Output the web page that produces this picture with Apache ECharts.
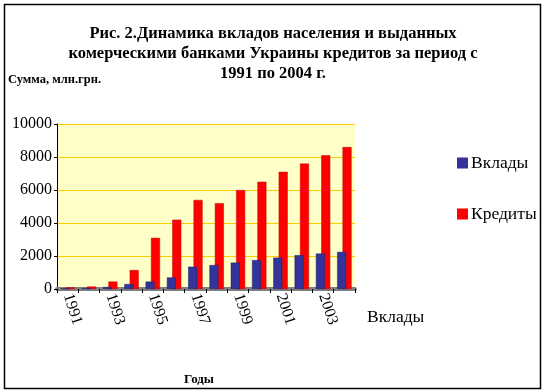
<!DOCTYPE html>
<html>
<head>
<meta charset="utf-8">
<script src="https://cdn.jsdelivr.net/npm/echarts@6/dist/echarts.min.js"></script>
<style>
html,body{margin:0;padding:0;background:#fff;}
#c{width:546px;height:392px;}
</style>
</head>
<body>
<div id="c"></div>
<script>
const years = ['1991','1992','1993','1994','1995','1996','1997','1998','1999','2000','2001','2002','2003','2004'];
const vklady = [30, 60, 120, 300, 450, 700, 1350, 1450, 1600, 1750, 1900, 2050, 2150, 2250];
const kredity = [100, 150, 450, 1150, 3100, 4200, 5400, 5200, 6000, 6500, 7100, 7600, 8100, 8600];
const yTicks = [0, 2000, 4000, 6000, 8000, 10000];
const titleText = 'Рис. 2.Динамика вкладов населения и выданных\nкомерческими банками Украины кредитов за период с\n1991 по 2004 г.';
const serif = '"Liberation Serif", "DejaVu Serif", serif';

const chart = echarts.init(document.getElementById('c'));
chart.setOption({
  animation: false,
  backgroundColor: '#ffffff',
  title: [
    {
      text: titleText,
      left: 'center',
      top: 19,
      textStyle: {fontFamily: serif, fontWeight: 'bold', fontSize: 16.5, lineHeight: 20, color: '#000'}
    },
    {
      text: 'Сумма, млн.грн.',
      left: 3,
      top: 68,
      textStyle: {fontFamily: serif, fontWeight: 'bold', fontSize: 12.5, color: '#000'}
    }
  ],
  legend: {
    orient: 'vertical',
    left: 452,
    top: 149,
    itemGap: 33,
    itemWidth: 11,
    itemHeight: 11,
    icon: 'rect',
    itemStyle: {borderWidth: 0},
    data: ['Вклады', 'Кредиты'],
    textStyle: {fontFamily: serif, fontSize: 17.5, color: '#000', padding: [0,0,0,-2]}
  },
  grid: {left: 57, top: 124, width: 298, height: 165, show: true, backgroundColor: '#FFFFC8', borderWidth: 0},
  xAxis: {
    type: 'category',
    data: years,
    name: 'Годы',
    nameLocation: 'middle',
    nameGap: 84,
    nameTextStyle: {fontFamily: serif, fontWeight: 'bold', fontSize: 13, color: '#000', padding: [0, 14, 0, 0]},
    axisLine: {lineStyle: {color: '#808080', width: 4}},
    axisTick: {show: true, interval: 0, length: 4, lineStyle: {color: '#000'}},
    axisLabel: {interval: 1, rotate: -72, fontFamily: serif, fontSize: 16, color: '#000', margin: 5}
  },
  yAxis: {
    type: 'value',
    min: 0,
    max: 10000,
    interval: 2000,
    axisLine: {show: true, lineStyle: {color: '#000'}},
    axisTick: {show: true, length: 3, lineStyle: {color: '#000'}},
    axisLabel: {fontFamily: serif, fontSize: 16, color: '#000', margin: 5,
      formatter: v => yTicks.indexOf(v) >= 0 ? String(v) : ''},
    splitLine: {lineStyle: {color: '#FFCC00', width: 1}}
  },
  series: [
    {
      name: 'Вклады',
      type: 'bar',
      data: vklady,
      barWidth: 9,
      barGap: '-40%',
      z: 4,
      itemStyle: {color: '#333399', borderColor: '#1e1e70', borderWidth: 0.5}
    },
    {
      name: 'Кредиты',
      type: 'bar',
      data: kredity,
      barWidth: 9,
      z: 3,
      itemStyle: {color: '#FF0000', borderColor: '#c00000', borderWidth: 0.5}
    }
  ],
  graphic: [
    {type: 'rect', shape: {x: 4.5, y: 4.5, width: 536, height: 384}, style: {fill: null, stroke: '#000', lineWidth: 1.5}, silent: true, z: 100},
    {type: 'text', left: 367, top: 308, style: {text: 'Вклады', font: '17.5px ' + serif, fill: '#000'}}
  ]
});
</script>
</body>
</html>
